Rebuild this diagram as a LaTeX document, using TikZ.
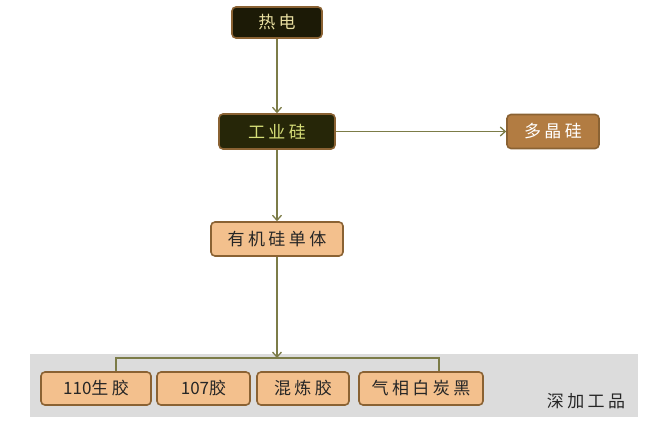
\documentclass[tikz,border=0pt]{standalone}
\usepackage{fontspec}
\setmainfont{Noto Sans CJK SC}
\newfontfamily\cjk[LetterSpace=20]{Noto Sans CJK SC}
\usetikzlibrary{arrows.meta, positioning, calc}
\definecolor{mLine}{HTML}{7C7C48}
\definecolor{mEdge}{HTML}{8A6233}
\definecolor{mDark}{HTML}{1C1A06}
\definecolor{mOlive}{HTML}{262608}
\definecolor{mBrown}{HTML}{B27C42}
\definecolor{mPeach}{HTML}{F3C08D}
\definecolor{mGray}{HTML}{DCDCDC}

\begin{document}
\begin{tikzpicture}[x=1pt, y=-1pt,
    box/.style={draw=mEdge, line width=1.6pt, rounded corners=4pt,
                inner sep=0pt, font=\fontsize{17}{19}\selectfont},
    darkbox/.style={box, fill=mDark, text={rgb,255:red,232;green,222;blue,160}},
    peach/.style={box, fill=mPeach, text=black!85},
    conn/.style={draw=mLine, line width=1.3pt},
    tip/.style={-{Straight Barb[length=5pt, width=9pt]}},
  ]
    \useasboundingbox (0,0) rectangle (660,423);
    % band of final products
    \fill[mGray] (30,354) rectangle (638,417);

    % level 0
    \node[darkbox, minimum width=90pt, minimum height=31pt] (heat) at (277,22.5) {\cjk 热电};

    % level 1
    \node[darkbox, fill=mOlive, text={rgb,255:red,214;green,222;blue,120},
          minimum width=116pt, minimum height=35pt] (msi) at (277,131.5) {\cjk 工业硅};
    \node[box, fill=mBrown, text=white,
          minimum width=92pt, minimum height=34pt] (poly) at (553,131.5) {\cjk 多晶硅};

    % level 2
    \node[peach, minimum width=132pt, minimum height=34pt] (mono) at (277,239) {\cjk 有机硅单体};

    % level 3: products
    \node[peach, minimum width=110pt, minimum height=33pt] (p110) at (96,388.5) {110{\cjk 生胶}};
    \node[peach, minimum width=93pt, minimum height=33pt] (p107) at (203.5,388.5) {107{\cjk 胶}};
    \node[peach, minimum width=92pt, minimum height=33pt] (mix) at (303,388.5) {\cjk 混炼胶};
    \node[peach, minimum width=124pt, minimum height=33pt] (silica) at (421,388.5) {\cjk 气相白炭黑};
    \node[font=\fontsize{17}{19}\selectfont, text=black!85] (deep) at (586,401) {\cjk 深加工品};

    % bracket
    \coordinate (fork) at (277,358);
    \coordinate (forkl) at (116,358);
    \coordinate (forkr) at (439,358);

    % edges
    \draw[conn, tip] (heat) -- (msi);
    \draw[conn, tip] (msi) -- (poly);
    \draw[conn, tip] (msi) -- (mono);
    \draw[conn, tip] (mono) -- (fork);
    \draw[conn] (forkl |- p110.north) -- (forkl) -- (forkr) -- (forkr |- silica.north);
  \end{tikzpicture}
\end{document}
